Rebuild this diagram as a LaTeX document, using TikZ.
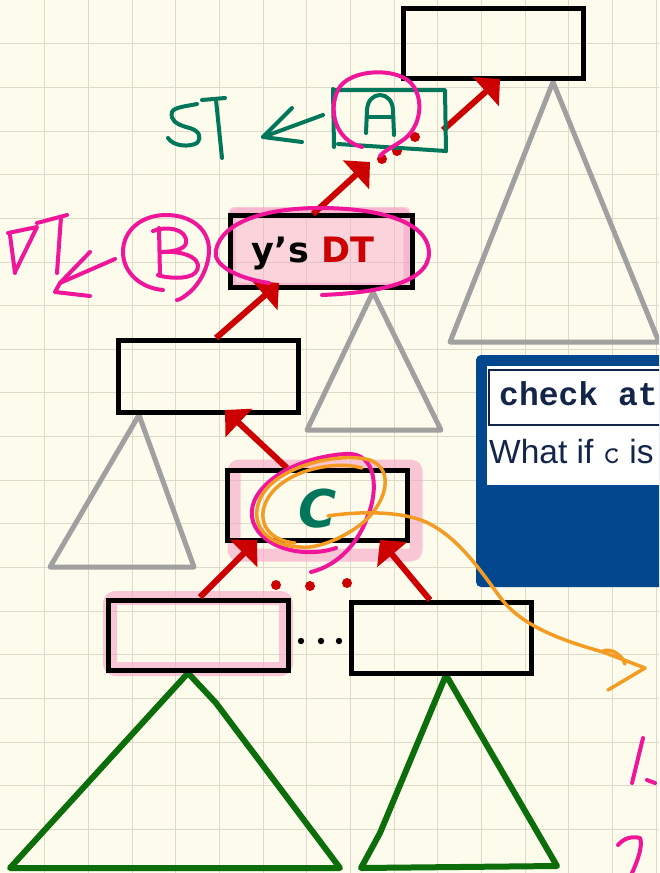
\documentclass[tikz,border=0pt]{standalone}
\usepackage{fontspec}
\setmainfont{Liberation Sans}
\newfontfamily\dejavu{DejaVu Sans}
\newfontfamily\codefont{Liberation Mono}
\usetikzlibrary{arrows.meta,calc}
\definecolor{paper}{HTML}{FDFBEB}
\definecolor{gridc}{HTML}{DEDACA}
\definecolor{redA}{HTML}{CC0000}
\definecolor{grayT}{HTML}{A0A0A0}
\definecolor{greenT}{HTML}{0B6E0B}
\definecolor{tealG}{HTML}{00765A}
\definecolor{pinkP}{HTML}{F0169A}
\definecolor{pinkH}{HTML}{F7A3C8}
\definecolor{orangeO}{HTML}{F39B22}
\definecolor{blueP}{HTML}{03478F}
\definecolor{navy}{HTML}{13264A}
\tikzset{
  box/.style={draw=black, line width=5pt, minimum width=180pt, minimum height=70pt, inner sep=0pt},
  redarrow/.style={draw=redA, line width=6pt, -{Triangle[length=19pt,width=38pt]}},
  tri/.style={line width=5pt, line join=round},
  hand/.style={line width=4pt, line cap=round, line join=round},
  hl/.style={draw=pinkH, opacity=0.6, line join=round, rounded corners=5pt},
}
\begin{document}
\begin{tikzpicture}[x=1pt,y=-1pt]
\useasboundingbox (0,0) rectangle (659,873);
\clip (0,0) rectangle (659,873);
\fill[paper] (0,0) rectangle (659,873);
\foreach \i in {1,...,15} \draw[gridc,line width=0.8pt] ({1.2+43.65*\i},0) -- ({1.2+43.65*\i},873);
\foreach \j in {1,...,19} \draw[gridc,line width=0.8pt] (0,{43.65*\j}) -- (659,{43.65*\j});

% pink highlights
\fill[pinkH, opacity=0.45, rounded corners=4pt] (229,207) rectangle (410,289);
\draw[hl, line width=7pt] (232,211) rectangle (407,286);
\draw[hl, line width=13pt] (234,466) rectangle (416,555);
\draw[hl, line width=14pt] (110,598) rectangle (286,669);

% gray subtrees
\draw[tri, draw=grayT] (553,82) -- (450,342) -- (659,342) -- cycle;
\draw[tri, draw=grayT] (373,292) -- (307,430) -- (441,430) -- cycle;
\draw[tri, draw=grayT] (139,415) -- (50,567) -- (194,567) -- cycle;
% green subtrees
\draw[tri, draw=greenT, line width=6pt] (188,673) -- (216,703) -- (340,868) -- (10,868) -- cycle;
\draw[tri, draw=greenT, line width=6pt] (446,675) -- (557,866) -- (361,868) -- (380,833) -- cycle;

% boxes
\node[box] (top) at (493,43) {};
\node[box, minimum width=182pt, minimum height=72pt] (ydt) at (321,251) {};
\node[box, minimum height=72pt] (mid) at (208,376) {};
\node[box] (cbox) at (317.5,505) {};
\node[box] (bl) at (198,635) {};
\node[box, minimum height=71pt] (br) at (441,637.5) {};

\node[anchor=base] (ydtxt) at (313,262) {\dejavu\bfseries\fontsize{35}{40}\selectfont y’s \textcolor{redA}{DT}};
\node[anchor=base, text=tealG] (ctxt) at (318,527) {\dejavu\bfseries\itshape\fontsize{52}{58}\selectfont C};

% blue panel
\fill[blueP, rounded corners=5pt] (476,355) rectangle (690,587);
\fill[white] (487,366) rectangle (690,485);
\draw[navy, line width=1.2pt, fill=white] (489,370) rectangle (690,425);
\node[anchor=base west, inner sep=0pt, text=navy] (code) at (499,405) {\codefont\bfseries\fontsize{33}{36}\selectfont check at};
\node[anchor=base west, inner sep=0pt, text=navy] (what) at (489,463) {\fontsize{33.5}{38}\selectfont What if {\ttfamily c} is};

% red arrows
\coordinate (r1s) at (443,130); \coordinate (r1e) at (500,79);
\coordinate (r2s) at (313,214); \coordinate (r2e) at (370,162);
\coordinate (r3s) at (216,338); \coordinate (r3e) at (279,283);
\coordinate (r4s) at (287,468); \coordinate (r4e) at (225,410);
\coordinate (r5s) at (200,597); \coordinate (r5e) at (257,540);
\coordinate (r6s) at (430,600); \coordinate (r6e) at (380,540);
\draw[redarrow] (r1s) -- (r1e);
\draw[redarrow] (r2s) -- (r2e);
\draw[redarrow] (r3s) -- (r3e);
\draw[redarrow] (r4s) -- (r4e);
\draw[redarrow] (r5s) -- (r5e);
\draw[redarrow] (r6s) -- (r6e);
\foreach \p in {(382,159),(397,151),(415,137),(276,585),(310,586),(347,583)} \fill[redA] \p circle (5);
\foreach \p in {(301,641),(321,641),(339,641)} \fill[black] \p circle (3.2);

% green annotations
\begin{scope}[hand, draw=tealG]
\draw (334,90) -- (445,90) -- (446,151);
\draw (333,89) -- (334,147);
\draw (338,144) -- (446,151);
\draw (366,133) -- (367,110) .. controls (368,90) and (392,90) .. (393,110) -- (394,135);
\draw (367,117) -- (393,117);
\draw (197,104) .. controls (188,106) and (174,107) .. (172,112) .. controls (170,120) and (176,124) .. (186,127) .. controls (200,130) and (202,137) .. (197,143) .. controls (190,147) and (174,147) .. (168,138);
\draw (202,100) -- (225,98);
\draw (216,100) -- (222,158);
\draw (323,115) -- (263,137);
\draw (292,108) -- (263,137) -- (302,142);
\end{scope}

% pink annotations
\begin{scope}[hand, draw=pinkP]
\draw (362,147) .. controls (335,140) and (328,110) .. (338,90) .. controls (348,68) and (402,66) .. (414,87) .. controls (425,105) and (418,130) .. (403,140) .. controls (395,146) and (385,150) .. (380,156);
\draw (269,283) .. controls (235,278) and (212,264) .. (216,250) .. controls (222,222) and (265,208) .. (320,208) .. controls (380,208) and (428,222) .. (429,252) .. controls (430,285) and (370,293) .. (322,295);
\draw (163,290) .. controls (140,288) and (123,272) .. (123,252) .. controls (123,230) and (142,215) .. (166,215) .. controls (192,215) and (210,230) .. (209,252) .. controls (208,270) and (198,285) .. (190,292) .. controls (185,296) and (180,300) .. (177,300);
\draw (153,231) .. controls (165,226) and (188,228) .. (186,243) .. controls (185,250) and (170,252) .. (160,252) .. controls (190,250) and (205,262) .. (195,273) .. controls (188,280) and (165,278) .. (158,275);
\draw (159,228) -- (160,276);
\draw (10,235) -- (15,273);
\draw (8,233) -- (37,227) -- (15,272);
\draw (37,223) -- (67,215);
\draw (61,217) -- (57,273);
\draw (115,259) -- (60,283);
\draw (90,252) -- (60,283) -- (55,292) -- (90,296);
\draw (336,548) .. controls (300,560) and (256,545) .. (252,517) .. controls (248,488) and (290,458) .. (345,454) .. controls (378,451) and (378,492) .. (368,515) .. controls (360,540) and (340,565) .. (311,572);
\draw (643,738) -- (632,783);
\draw (647,780) -- (655,783);
\draw (618,845) .. controls (624,838) and (632,836) .. (640,838) .. controls (643,845) and (638,860) .. (632,873);
\end{scope}

% orange annotation
\begin{scope}[hand, line width=3.5pt, draw=orangeO]
\draw (300,547) .. controls (262,545) and (248,520) .. (262,495) .. controls (280,465) and (340,452) .. (370,460) .. controls (396,470) and (386,505) .. (360,525) .. controls (340,540) and (315,549) .. (300,547);
\draw (295,543) .. controls (265,540) and (256,518) .. (268,498) .. controls (285,470) and (335,460) .. (362,468);
\draw (328,516) .. controls (345,513) and (400,508) .. (430,524) .. controls (460,540) and (480,570) .. (500,597) .. controls (520,625) and (560,640) .. (603,652) -- (645,668) -- (608,690);
\draw (603,651) .. controls (612,648) and (622,655) .. (625,664);
\end{scope}
\end{tikzpicture}
\end{document}
